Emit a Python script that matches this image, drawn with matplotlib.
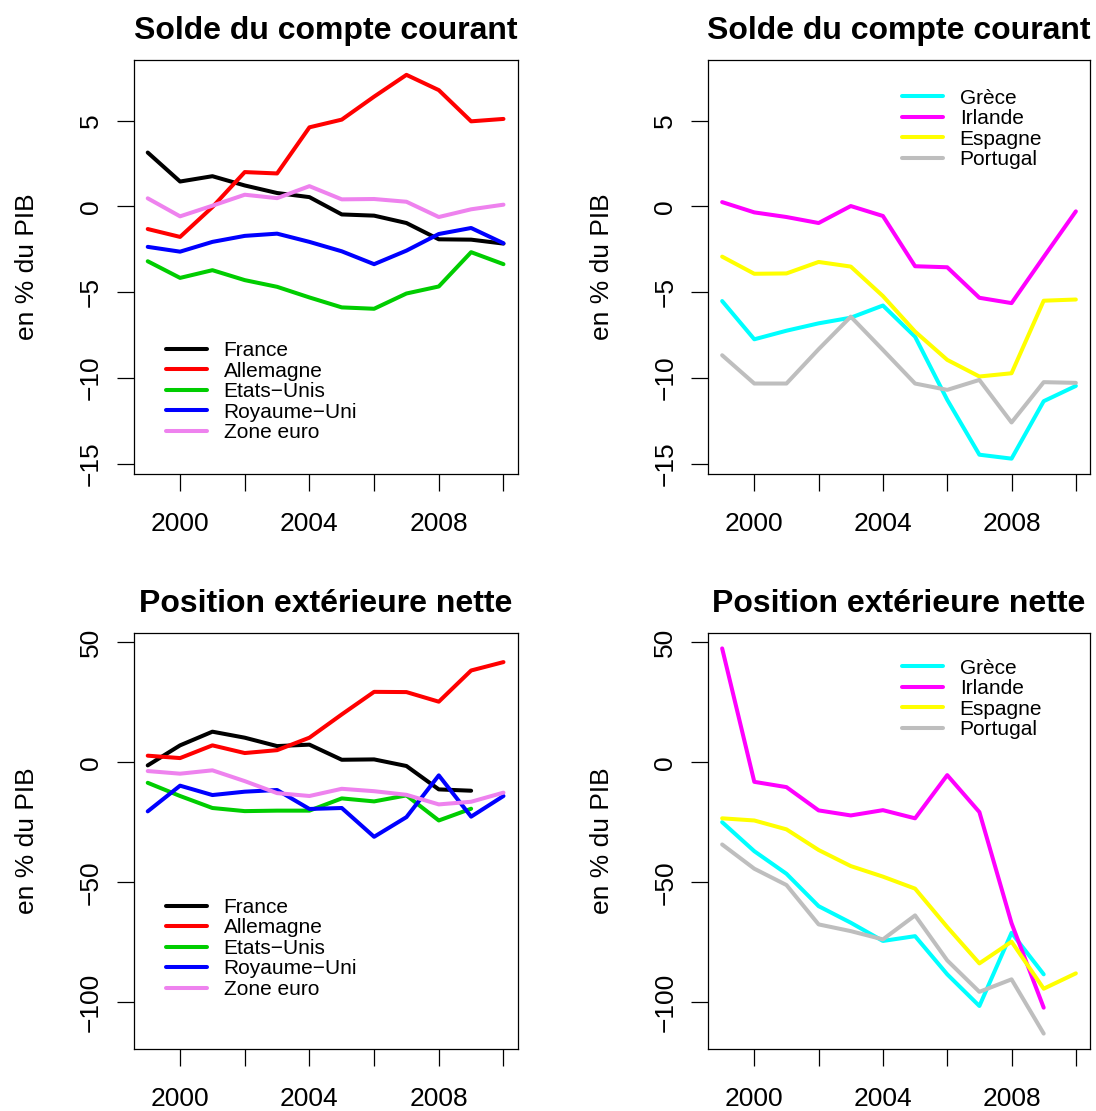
import matplotlib
matplotlib.use("Agg")
import matplotlib.pyplot as plt
import numpy as np

plt.rcParams['font.family'] = ['Liberation Sans', 'DejaVu Sans']

years = list(range(1999, 2011))
nan = np.nan

# Solde du compte courant (% du PIB)
cc_france = [3.14, 1.45, 1.76, 1.22, 0.78, 0.54, -0.47, -0.54, -0.97, -1.92, -1.94, -2.17]
cc_allemagne = [-1.32, -1.78, -0.04, 2.0, 1.92, 4.61, 5.06, 6.4, 7.67, 6.78, 4.96, 5.1]
cc_etats_unis = [-3.2, -4.17, -3.72, -4.3, -4.69, -5.31, -5.89, -5.97, -5.08, -4.67, -2.67, -3.37]
cc_royaume_uni = [-2.36, -2.64, -2.07, -1.72, -1.59, -2.07, -2.62, -3.37, -2.58, -1.61, -1.26, -2.15]
cc_zone_euro = [0.47, -0.58, 0.04, 0.68, 0.48, 1.18, 0.41, 0.43, 0.27, -0.62, -0.17, 0.1]
cc_grece = [-5.52, -7.75, -7.25, -6.82, -6.49, -5.78, -7.6, -11.28, -14.48, -14.71, -11.36, -10.47]
cc_irlande = [0.25, -0.35, -0.62, -0.97, 0.02, -0.56, -3.49, -3.55, -5.33, -5.64, -2.95, -0.29]
cc_espagne = [-2.93, -3.93, -3.91, -3.24, -3.51, -5.23, -7.3, -8.95, -9.92, -9.73, -5.5, -5.43]
cc_portugal = [-8.68, -10.33, -10.33, -8.33, -6.43, -8.37, -10.33, -10.7, -10.12, -12.6, -10.25, -10.29]

# Position extérieure nette (% du PIB)
pen_france = [-1.25, 7.1, 12.8, 10.3, 6.8, 7.4, 1.1, 1.25, -1.5, -11.25, -11.8, nan]
pen_allemagne = [2.8, 1.8, 7.1, 3.9, 5.1, 10.3, 20.0, 29.4, 29.3, 25.3, 38.3, 41.8]
pen_etats_unis = [-8.5, -14.0, -19.0, -20.3, -20.1, -20.1, -15.0, -16.25, -13.75, -24.2, -19.3, nan]
pen_royaume_uni = [-20.4, -9.7, -13.6, -12.2, -11.5, -19.4, -19.0, -31.0, -22.8, -5.4, -22.6, -14.0]
pen_zone_euro = [-3.6, -4.7, -3.3, -7.8, -12.8, -14.0, -11.0, -12.0, -13.5, -17.5, -16.4, -12.6]
pen_grece = [-24.9, -37.0, -46.4, -59.9, -66.8, -74.4, -72.4, -88.3, -101.5, -71.0, -88.3, nan]
pen_irlande = [47.5, -8.1, -10.3, -20.0, -22.1, -19.9, -23.3, -5.3, -20.7, -67.0, -102.2, nan]
pen_espagne = [-23.3, -24.2, -27.9, -36.5, -43.2, -47.6, -52.6, -68.6, -83.75, -74.7, -94.3, -87.9]
pen_portugal = [-34.2, -44.3, -51.1, -67.5, -70.3, -73.75, -63.75, -82.5, -95.6, -90.4, -113.0, nan]

group1 = ['France', 'Allemagne', 'Etats\u2212Unis', 'Royaume\u2212Uni', 'Zone euro']
colors1 = ['black', '#FF0000', '#00CD00', '#0000FF', '#EE82EE']
group2 = ['Grèce', 'Irlande', 'Espagne', 'Portugal']
colors2 = ['#00FFFF', '#FF00FF', '#FFFF00', '#BEBEBE']

W, H = 1096, 1111
fig = plt.figure(figsize=(W / 100, H / 100), dpi=100)


def px_axes(x0, y0, x1, y1):
    # box given in pixels from the top left corner
    return fig.add_axes([x0 / W, 1 - y1 / H, (x1 - x0) / W, (y1 - y0) / H])


def ylim_of(series):
    vals = np.concatenate([np.array(s, dtype=float) for s in series])
    lo, hi = np.nanmin(vals), np.nanmax(vals)
    pad = (hi - lo) * 0.04
    return lo - pad, hi + pad


def draw_panel(ax, series, names, colors, title, yticks, ylim, legend_xy):
    for s, name, c in zip(series, names, colors):
        ax.plot(years, s, color=c, lw=2.9, label=name, solid_capstyle='round')
    ax.set_xlim(1999 - 0.44, 2010 + 0.44)
    ax.set_ylim(*ylim)
    ax.set_xticks([2000, 2002, 2004, 2006, 2008, 2010])
    ax.set_xticklabels(['2000', '', '2004', '', '2008', ''])
    ax.set_yticks(yticks)
    ax.set_yticklabels([str(t).replace('-', '\u2212') for t in yticks],
                       rotation=90, va='center')
    ax.tick_params(direction='out', length=12, width=0.9, labelsize=19)
    ax.tick_params(axis='x', pad=15.5)
    ax.tick_params(axis='y', pad=10)
    for sp in ax.spines.values():
        sp.set_linewidth(0.9)
    ax.set_title(title, fontsize=23, fontweight='bold', pad=15)
    ax.set_ylabel('en % du PIB', fontsize=19)
    ax.yaxis.set_label_coords((27 - 133.5) / 384.2, 0.5)
    ax.yaxis.label.set_va('center')
    ax.legend(loc='upper left', bbox_to_anchor=(legend_xy[0] / W, 1 - legend_xy[1] / H),
              bbox_transform=fig.transFigure, frameon=False, fontsize=15,
              handlelength=1.97, handletextpad=0.8, labelspacing=0.07,
              borderpad=0, borderaxespad=0)


cc1 = [cc_france, cc_allemagne, cc_etats_unis, cc_royaume_uni, cc_zone_euro]
cc2 = [cc_grece, cc_irlande, cc_espagne, cc_portugal]
pen1 = [pen_france, pen_allemagne, pen_etats_unis, pen_royaume_uni, pen_zone_euro]
pen2 = [pen_grece, pen_irlande, pen_espagne, pen_portugal]

ylim_cc = ylim_of(cc1 + cc2)
ylim_pen = ylim_of(pen1 + pen2)

ax1 = px_axes(133.5, 59.5, 517.7, 474)
draw_panel(ax1, cc1, group1, colors1, 'Solde du compte courant',
           [-15, -10, -5, 0, 5], ylim_cc, (166, 341.3))
ax2 = px_axes(708, 59.5, 1090, 474)
draw_panel(ax2, cc2, group2, colors2, 'Solde du compte courant',
           [-15, -10, -5, 0, 5], ylim_cc, (902, 88.7))
ax3 = px_axes(133.5, 633, 517.7, 1049)
draw_panel(ax3, pen1, group1, colors1, 'Position extérieure nette',
           [-100, -50, 0, 50], ylim_pen, (166, 898))
ax4 = px_axes(708, 633, 1090, 1049)
draw_panel(ax4, pen2, group2, colors2, 'Position extérieure nette',
           [-100, -50, 0, 50], ylim_pen, (902, 658.7))

fig.savefig('out.png', dpi=100)
